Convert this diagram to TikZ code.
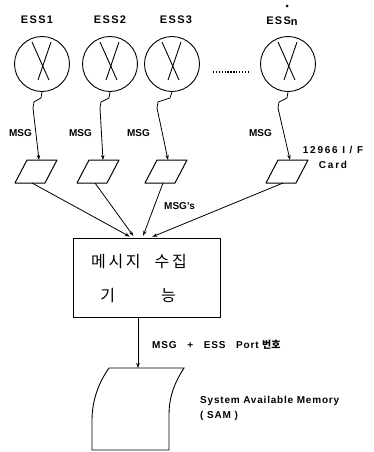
\documentclass[tikz,border=0pt]{standalone}
\usepackage{fontspec}
\setmainfont{Liberation Sans}
\newfontfamily\kr{Noto Sans CJK KR}
\usetikzlibrary{arrows.meta,shapes.geometric}
\begin{document}
\begin{tikzpicture}[x=1pt,y=-1pt,
  ln/.style={line width=0.9pt},
  ess/.style={circle,draw,line width=0.9pt,minimum size=55pt,inner sep=0pt},
  card/.style={minimum width=30pt,minimum height=23pt,inner sep=0pt,outer sep=0pt},
  lbl/.style={font=\fontsize{10}{15}\selectfont\bfseries,inner sep=0pt},
  elbl/.style={font=\fontsize{11}{13}\selectfont\bfseries\addfontfeatures{LetterSpace=12},inner sep=0pt},
  wlbl/.style={font=\fontsize{10}{15}\selectfont\bfseries\addfontfeatures{LetterSpace=18},inner sep=0pt},
  slbl/.style={font=\fontsize{10}{15}\selectfont\bfseries\addfontfeatures{LetterSpace=8},inner sep=0pt},
  kor/.style={font=\kr\fontsize{16}{18}\selectfont,inner sep=0pt},
  arr/.style={line width=0.8pt,-{Stealth[length=5pt,width=3.5pt]}}]
\useasboundingbox (0,0) rectangle (373,452);
% stations
\node[ess] (e1) at (42,64) {};
\node[ess] (e2) at (110,64) {};
\node[ess] (e3) at (172,64) {};
\node[ess] (e4) at (288,64) {};
\foreach \n in {e1,e2,e3,e4}{
  \draw[ln] ([shift={(-10,-22)}]\n.center) -- ([shift={(7,16)}]\n.center);
  \draw[ln] ([shift={(9,-22)}]\n.center) -- ([shift={(-4,16)}]\n.center);
}
\node[elbl] (l1) at (37,20) {ESS1};
\node[elbl] (l2) at (110,20) {ESS2};
\node[elbl] (l3) at (176,20) {ESS3};
\node[elbl] (l4) at (282,21) {ESS\raisebox{-1pt}{n}};
\fill (287,6) circle (1.5);
\draw[line width=1.3pt,dash pattern=on 1.3pt off 1.6pt] ([shift={(13,8)}]e3.east) -- ([shift={(-11,8)}]e4.west);
% cards
\node[card] (p1) at (36,171.5) {};
\node[card] (p2) at (98,171.5) {};
\node[card] (p3) at (166,171.5) {};
\node[card] (p4) at (287,171.5) {};
\foreach \n in {p1,p2,p3,p4}{
  \draw[line width=1pt,line join=round] ([xshift=6]\n.north west) -- ([xshift=6]\n.north east)
    -- ([xshift=-6]\n.south east) -- ([xshift=-6]\n.south west) -- cycle;
}
\draw[arr] (e1.south) -- ++(-1,6) -- ++(-7,4) -- ++(-1,6) -- ([xshift=3]p1.north);
\draw[arr] (e2.south) -- ++(-1,6) -- ++(-8,4) -- ++(-1,6) -- ([xshift=5]p2.north);
\draw[arr] (e3.south) -- ++(-2,6) -- ++(-12,4) -- ++(-1,6) -- ([xshift=2]p3.north);
\draw[arr] (e4.south) -- ++(-1,6) -- ++(-8,4) -- ++(-1,6) -- ([xshift=3]p4.north);
\node[lbl,anchor=east] (m1) at (32,133) {MSG};
\node[lbl,anchor=east] (m2) at (92,133) {MSG};
\node[lbl,anchor=east] (m3) at (150,133) {MSG};
\node[lbl,anchor=east] (m4) at (272,133) {MSG};
\node[wlbl,align=center] (ifc) at (333,157) {12966 I / F\\Card};
% collector box
\node[draw,line width=0.9pt,minimum width=147pt,minimum height=79pt] (box) at (146.5,277.5) {};
\node[kor] (k1) at (139,262) {메\,시\,지\hspace{14pt}수\,집};
\node[kor] (k2) at (138,296) {기\hspace{46pt}능};
\draw[arr,shorten >=2pt] ([xshift=-4]p1.south) -- ([xshift=-15]box.north);
\draw[arr,shorten >=2pt] ([xshift=-3]p2.south) -- ([xshift=-12]box.north);
\draw[arr,shorten >=2pt] ([xshift=-3]p3.south) -- ([xshift=-4]box.north);
\draw[arr,shorten >=2pt] ([xshift=-4]p4.south) -- ([xshift=4]box.north);
\node[lbl,anchor=west] (ms) at (164,206) {MSG's};
% memory
\coordinate (samtop) at (138,368);
\draw[arr] (box.south -| samtop) -- (samtop);
\node[slbl,anchor=west] (port) at (152,345) {MSG\ \ \ +\ \ \ ESS\ \ \ Port\ {\kr 번호}};
\draw[line width=0.9pt] (109,368) -- (184,368) .. controls (175,382) and (169,396) .. (169,415) -- (169,450) -- (92,450) -- (92,420) .. controls (92,400) and (99,382) .. (109,368) -- cycle;
\node[slbl,anchor=west,align=left] (sam) at (200,408) {System\ Available\ Memory\\( SAM )};
\end{tikzpicture}
\end{document}
